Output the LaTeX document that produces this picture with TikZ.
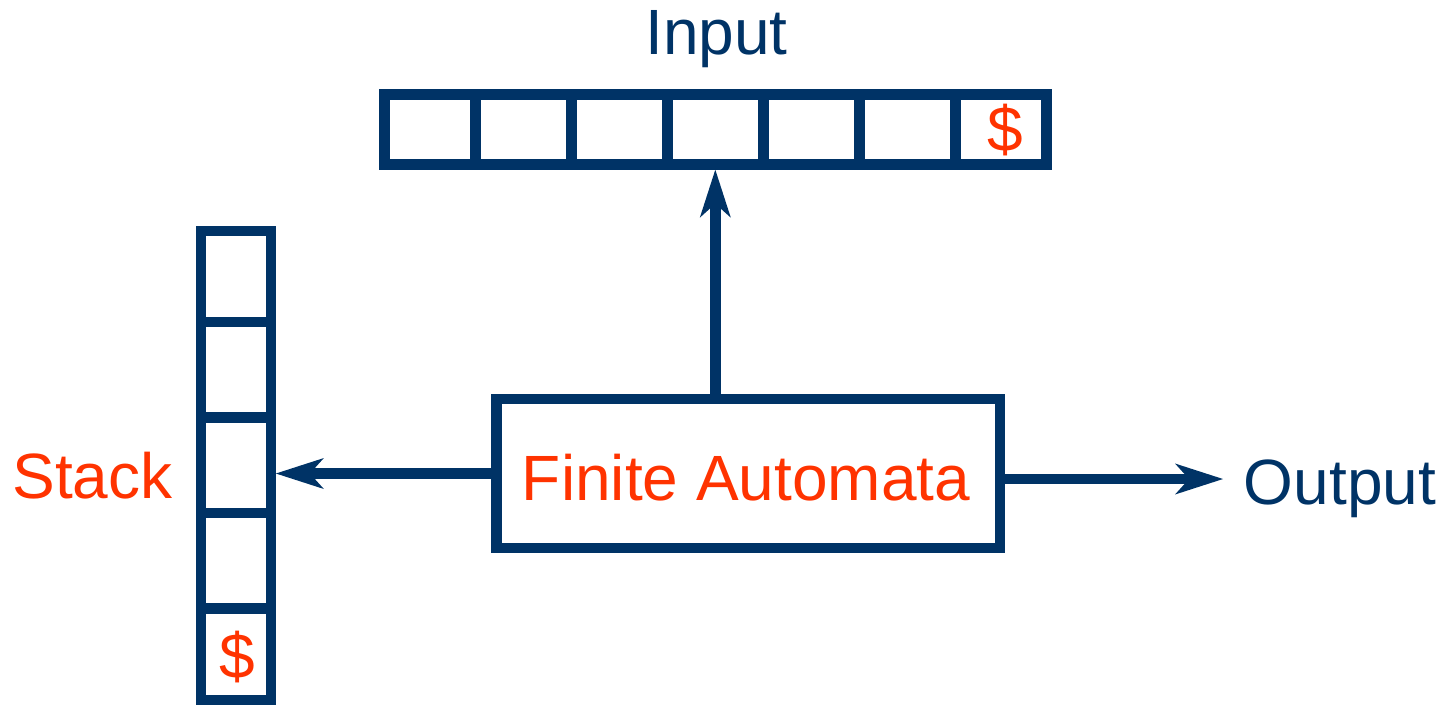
\documentclass[tikz,border=0pt]{standalone}
\usepackage{fontspec}
\setmainfont{Liberation Sans}
\usetikzlibrary{arrows.meta}
\definecolor{navy}{HTML}{003366}
\definecolor{flame}{HTML}{FF3300}
\begin{document}
\begin{tikzpicture}[x=0.5pt,y=-0.5pt,
  thick line/.style={line width=5.2pt},
  cell/.style={draw=navy, thick line, inner sep=0pt},
  tapecell/.style={cell, minimum height=35pt},
  stackcell/.style={cell, minimum width=34.85pt},
  lbl/.style={inner sep=0pt, font=\fontsize{32pt}{38pt}\selectfont},
  arr/.style={navy, thick line,
    -{Stealth[length=24pt, width=15.5pt, inset=7pt, line width=0pt]}}]
\useasboundingbox (0,0) rectangle (1449,708);

% input tape
\node[tapecell, minimum width=45.4pt] (t1) at (429.9,129.5) {};
\node[tapecell, minimum width=48pt]   (t2) at (523.3,129.5) {};
\node[tapecell, minimum width=48pt]   (t3) at (619.3,129.5) {};
\node[tapecell, minimum width=48pt]   (t4) at (715.3,129.5) {};
\node[tapecell, minimum width=48pt]   (t5) at (811.3,129.5) {};
\node[tapecell, minimum width=48pt]   (t6) at (907.3,129.5) {};
\node[tapecell, minimum width=45.5pt] (t7) at (1000.8,129.5) {};
\node[lbl, text=flame] (tend) at (1005.5,130) {\$};
\node[lbl, text=navy, anchor=base] (input) at (716.5,54) {Input};

% stack
\node[stackcell, minimum height=45.5pt]  (s1) at (235.85,276.5) {};
\node[stackcell, minimum height=47.75pt] (s2) at (235.85,369.75) {};
\node[stackcell, minimum height=47.75pt] (s3) at (235.85,465.25) {};
\node[stackcell, minimum height=47.75pt] (s4) at (235.85,560.75) {};
\node[stackcell, minimum height=45.75pt] (s5) at (235.85,654.25) {};
\node[lbl, text=flame] (send) at (237,657.5) {\$};
\node[lbl, text=flame, anchor=base] (stack) at (92.5,498) {Stack};

% control unit
\node[cell, minimum width=251.75pt, minimum height=74.5pt] (fa) at (748.25,473.5) {};
\node[lbl, text=flame, anchor=base] (fatext) at (746,500) {Finite Automata};

% output
\node[lbl, text=navy, anchor=base] (output) at (1340,504) {Output};
\coordinate (outtip) at (1223,479);

% connectors
\draw[arr] (fa.west) -- (fa.west -| s3.east);
\draw[arr] (fa.north -| t4.south) -- (t4.south);
\draw[arr] ([yshift=-2.75pt]fa.east) -- (outtip);
\end{tikzpicture}
\end{document}
